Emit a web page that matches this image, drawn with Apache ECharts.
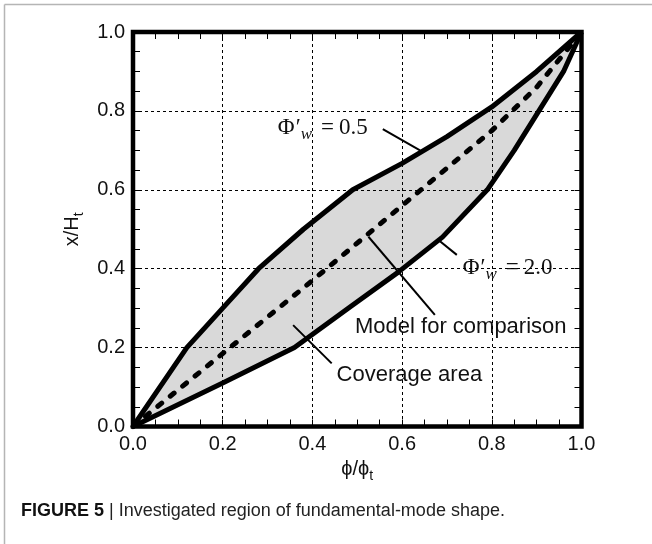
<!DOCTYPE html>
<html>
<head>
<meta charset="utf-8">
<script src="https://cdn.jsdelivr.net/npm/echarts@6/dist/echarts.min.js"></script>
<style>
  html, body { margin: 0; padding: 0; background: #fff; }
  #chart { width: 652px; height: 544px; }
</style>
</head>
<body>
<div id="chart"></div>
<script>
// Mode-shape envelopes: [phi/phi_t, x/H_t]
const shapeSoft = [[0, 0], [0.12, 0.2], [0.2, 0.3], [0.28, 0.4], [0.38, 0.5], [0.49, 0.6],
                   [0.6, 0.667], [0.7, 0.735], [0.8, 0.81], [0.9, 0.9], [1, 1]];      // Φ'w = 0.5
const shapeStiff = [[0, 0], [0.2, 0.11], [0.36, 0.2], [0.48, 0.3], [0.59, 0.39], [0.69, 0.48],
                    [0.79, 0.6], [0.85, 0.7], [0.905, 0.8], [0.96, 0.9], [1, 1]];     // Φ'w = 2.0
const modelShape = [[0, 0], [0.2, 0.185], [0.4, 0.37], [0.6, 0.56], [0.8, 0.75], [0.9, 0.86], [1, 1]];

const axisTicks = [0, 0.2, 0.4, 0.6, 0.8, 1.0];

// Leader lines for the annotations
const leaderSoft = [[0.557, 0.754], [0.64, 0.70]];
const leaderStiff = [[0.722, 0.435], [0.681, 0.473]];
const leaderModel = [[0.525, 0.481], [0.673, 0.283]];
const leaderArea = [[0.357, 0.257], [0.443, 0.160]];

// Annotation texts and their left-middle anchors
const noteTexts = ['{m|Φ}{p|′}{s|w}{e|=}{m|0.5}', '{m|Φ}{p|′}{s|w}{e|=}{m|2.0}', 'Model for comparison', 'Coverage area'];
const noteAnchors = [[0.323, 0.757], [0.735, 0.401], [0.495, 0.253], [0.454, 0.131]];

const SANS = '"Liberation Sans", Arial, sans-serif';
const SERIF = '"Liberation Serif", "DejaVu Serif", serif';

const chart = echarts.init(document.getElementById('chart'), null, { renderer: 'canvas' });

const tickFmt = v => (axisTicks.some(t => Math.abs(t - v) < 1e-9) ? v.toFixed(1) : '');

// Axis carrying labels and dotted grid lines (no ticks)
function labelAxis(pos, nameCfg) {
  return Object.assign({
    type: 'value', min: 0, max: 1, interval: 0.2, position: pos,
    axisLine: { show: false, onZero: false },
    axisTick: { show: false },
    minorTick: { show: false },
    axisLabel: { show: true, margin: 8, fontSize: 20, color: '#111', fontFamily: SANS,
                 showMinLabel: true, showMaxLabel: true, formatter: tickFmt },
    splitLine: { show: true, lineStyle: { color: '#000', width: 1, type: [3, 3] } }
  }, nameCfg || {});
}

// Axis carrying only the inward tick marks along one side of the frame
function tickAxis(pos) {
  return {
    type: 'value', min: 0, max: 1, interval: 0.2, position: pos,
    axisLine: { show: false, onZero: false },
    axisTick: { show: true, inside: true, length: 7, lineStyle: { color: '#000', width: 1 } },
    minorTick: { show: true, splitNumber: 4, length: 7, lineStyle: { color: '#000', width: 1 } },
    axisLabel: { show: false },
    splitLine: { show: false }
  };
}

const nameRich = {
  a: { fontSize: 20, fontFamily: SANS, color: '#111', lineHeight: 28 },
  b: { fontSize: 14, fontFamily: SANS, color: '#111', lineHeight: 12, verticalAlign: 'bottom' }
};

const option = {
  animation: false,
  backgroundColor: '#fff',
  grid: { left: 133, right: 70.5, top: 32, bottom: 117.5, show: true,
          borderColor: '#000', borderWidth: 4.5, backgroundColor: 'transparent' },
  xAxis: [
    labelAxis('bottom', { name: '{a|ϕ/ϕ}{b|t}', nameLocation: 'middle', nameGap: 27,
                          nameTextStyle: { rich: nameRich } }),
    tickAxis('top'),
    tickAxis('bottom')
  ],
  yAxis: [
    labelAxis('left', { name: '{a|x/H}{b|t}', nameLocation: 'middle', nameGap: 34,
                        nameTextStyle: { rich: nameRich } }),
    tickAxis('right'),
    tickAxis('left')
  ],
  series: [
    {
      // shaded coverage band between the two envelopes
      type: 'custom', z: -1, silent: true,
      data: [[0, 0]],
      renderItem: (params, api) => {
        const pts = shapeSoft.map(p => api.coord(p))
          .concat(shapeStiff.slice().reverse().map(p => api.coord(p)));
        return { type: 'polygon', shape: { points: pts }, style: { fill: '#d9d9d9', stroke: 'none' } };
      }
    },
    {
      type: 'custom', z: -1, silent: true,
      data: noteAnchors.map((p, i) => [p[0], p[1], i]),
      renderItem: (params, api) => {
        const i = api.value(2);
        const c = api.coord([api.value(0), api.value(1)]);
        const math = i < 2;
        return {
          type: 'text', x: c[0], y: c[1],
          style: math ? {
            text: noteTexts[i], align: 'left', verticalAlign: 'middle',
            rich: {
              m: { fontSize: 23, fontFamily: SERIF, fill: '#111', lineHeight: 30 },
              p: { fontSize: 23, fontFamily: SERIF, fill: '#111', lineHeight: 30, padding: [0, 0, 0, 1] },
              e: { fontSize: 23, fontFamily: SERIF, fill: '#111', lineHeight: 30, padding: [0, 5, 0, 9] },
              s: { fontSize: 17, fontFamily: SERIF, fontStyle: 'italic', fill: '#111', lineHeight: 14, verticalAlign: 'bottom' }
            }
          } : {
            text: noteTexts[i], align: 'left', verticalAlign: 'middle',
            fontSize: 22, fontFamily: SANS, fill: '#111'
          }
        };
      }
    },
    { type: 'line', data: modelShape, symbol: 'none', clip: false, z: 4,
      lineStyle: { color: '#000', width: 5, type: [5, 11], cap: 'round' } },
    { type: 'line', data: shapeSoft, symbol: 'none', clip: false, z: 5,
      lineStyle: { color: '#000', width: 5, join: 'round' } },
    { type: 'line', data: shapeStiff, symbol: 'none', clip: false, z: 5,
      lineStyle: { color: '#000', width: 5, join: 'round' } },
    ...[leaderSoft, leaderStiff, leaderModel, leaderArea].map(d => ({
      type: 'line', data: d, symbol: 'none', clip: false, z: 6,
      lineStyle: { color: '#000', width: 2 }
    }))
  ],
  graphic: [
    { type: 'line', shape: { x1: 4.5, y1: 4.5, x2: 652, y2: 4.5 }, style: { stroke: '#b5b5b5', lineWidth: 1.5 } },
    { type: 'line', shape: { x1: 4.5, y1: 4.5, x2: 4.5, y2: 544 }, style: { stroke: '#b5b5b5', lineWidth: 1.5 } },
    {
      type: 'text', left: 21, top: 502,
      style: {
        text: '{b|FIGURE 5} | Investigated region of fundamental-mode shape.',
        fontSize: 18, fontFamily: SANS, fill: '#222',
        rich: { b: { fontSize: 18, fontFamily: SANS, fontWeight: 'bold', fill: '#111' } }
      }
    }
  ]
};

chart.setOption(option);
</script>
</body>
</html>
